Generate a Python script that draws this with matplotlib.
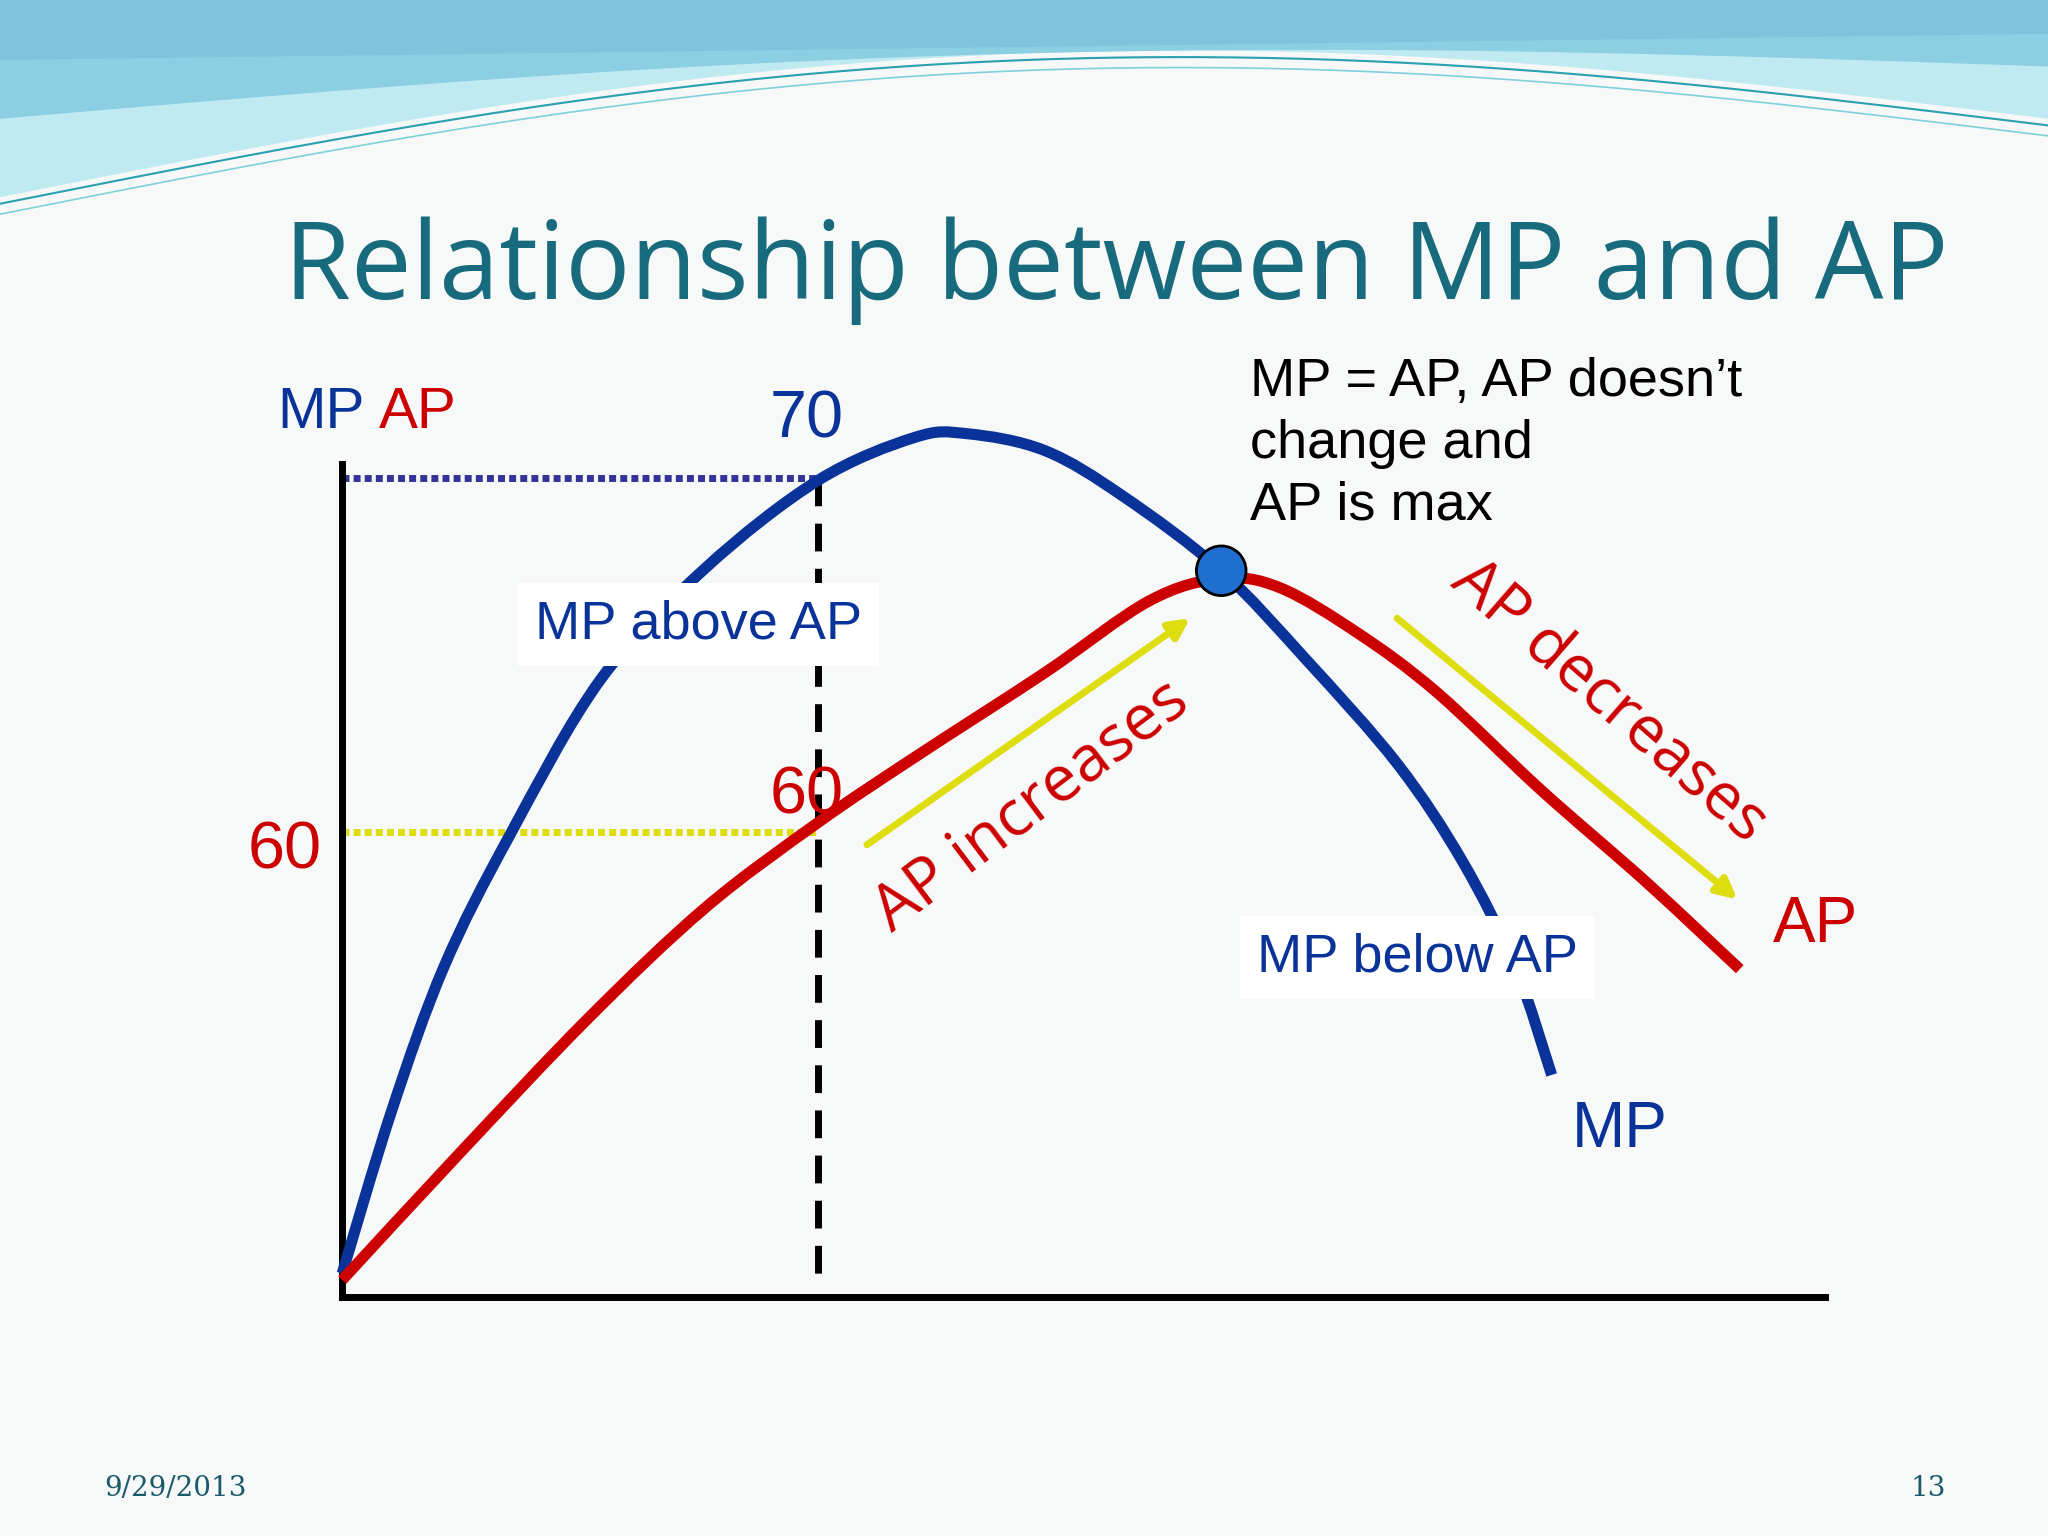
import numpy as np
import matplotlib.pyplot as plt
from matplotlib.patches import FancyArrowPatch, Circle, PathPatch
from matplotlib.path import Path

# curve points, in slide units (width 1568, height 1176, y downward)
mp_x = [262, 300, 340, 390, 460, 540, 626, 700, 740, 800, 860, 935, 1000, 1070, 1120, 1160, 1188]
mp_y = [975, 850, 740, 640, 520, 435, 368, 335, 332, 345, 380, 437, 505, 585, 660, 740, 823]
ap_x = [262, 350, 450, 540, 626, 700, 800, 880, 935, 980, 1040, 1100, 1180, 1260, 1332]
ap_y = [980, 885, 780, 695, 630, 580, 515, 460, 443, 450, 485, 530, 605, 675, 742]
peak = (935, 437)

narrow = ['Liberation Sans Narrow', 'Liberation Sans', 'DejaVu Sans']
blue = '#0a3399'
red = '#cc0000'
yellow = '#dddd10'


def smooth_path(xs, ys):
    # Catmull-Rom through the read points, drawn as cubic Bezier segments
    p = np.column_stack([xs, ys]).astype(float)
    verts = [p[0]]
    codes = [Path.MOVETO]
    for i in range(len(p) - 1):
        p0 = p[i - 1] if i > 0 else p[i]
        p3 = p[i + 2] if i + 2 < len(p) else p[i + 1]
        c1 = p[i] + (p[i + 1] - p0) / 6
        c2 = p[i + 1] - (p3 - p[i]) / 6
        verts += [c1, c2, p[i + 1]]
        codes += [Path.CURVE4] * 3
    return Path(verts, codes)


fig = plt.figure(figsize=(20.48, 15.36), dpi=100)
ax = fig.add_axes([0, 0, 1, 1])
ax.set_xlim(0, 1568)
ax.set_ylim(1176, 0)
ax.axis('off')
fig.patch.set_facecolor('#f7f8f8')

# top wave decoration
xs = np.linspace(0, 1568, 300)
t = xs / 1568
top1 = 150 - 80 * np.sin(np.pi * t) - 60 * t
ax.fill_between(xs, 0, top1, color='#bfeaf2', zorder=0)
top2 = 90 - 30 * np.sin(np.pi * t) - 40 * t
ax.fill_between(xs, 0, top2, color='#8ccfe3', zorder=0)
ax.fill_between(xs, 0, 45 - 20 * t, color='#7fc4dc', zorder=0)
ax.plot(xs, top1 + 6, color='#2aa0b0', lw=1.5, zorder=1)
ax.plot(xs, top1 + 14, color='#7fd0dc', lw=1.2, zorder=1)

ax.text(855, 207, 'Relationship between MP and AP', color='#176b7d',
        fontsize=78, ha='center', va='center', family=['Open Sans', 'DejaVu Sans'])

# axes
ax.plot([262, 262], [355, 993], color='black', lw=5, zorder=3)
ax.plot([262, 1397], [993, 993], color='black', lw=5, zorder=3)

# guides
ax.plot([262, 626], [366, 366], color='#333399', lw=5, ls=(0, (1, 0.6)), zorder=2)
ax.plot([262, 626], [637, 637], color=yellow, lw=5, ls=(0, (1, 0.6)), zorder=2)
ax.plot([626, 626], [366, 980], color='black', lw=5, ls=(0, (4, 2.5)), zorder=2)

ax.add_patch(PathPatch(smooth_path(mp_x, mp_y), facecolor='none', edgecolor=blue,
                       lw=8, zorder=4, capstyle='butt'))
ax.add_patch(PathPatch(smooth_path(ap_x, ap_y), facecolor='none', edgecolor=red,
                       lw=8, zorder=5, capstyle='butt'))
ax.add_patch(Circle(peak, 19, facecolor='#1f6fd0', edgecolor='black', lw=2, zorder=7))

for (x0, y0), (x1, y1) in [((662, 648), (913, 472)), ((1068, 472), (1332, 690))]:
    ax.add_patch(FancyArrowPatch((x0, y0), (x1, y1), arrowstyle='-|>', mutation_scale=30,
                                 color=yellow, lw=5, zorder=6))

box = dict(facecolor='white', edgecolor='none', pad=12)
ax.text(535, 478, 'MP above AP', color=blue, fontsize=39, ha='center', va='center',
        family=narrow, bbox=box, zorder=6)
ax.text(1085, 733, 'MP below AP', color=blue, fontsize=39, ha='center', va='center',
        family=narrow, bbox=box, zorder=6)

ax.text(212, 316, 'MP', color=blue, fontsize=42, ha='left', va='center', family=narrow)
ax.text(290, 316, 'AP', color=red, fontsize=42, ha='left', va='center', family=narrow)
ax.text(618, 322, '70', color=blue, fontsize=48, ha='center', va='center', family=narrow)
ax.text(618, 610, '60', color=red, fontsize=48, ha='center', va='center', family=narrow)
ax.text(218, 652, '60', color=red, fontsize=48, ha='center', va='center', family=narrow)
ax.text(1390, 708, 'AP', color=red, fontsize=46, ha='center', va='center', family=narrow)
ax.text(1240, 865, 'MP', color=blue, fontsize=46, ha='center', va='center', family=narrow)
ax.text(957, 340, 'MP = AP, AP doesn\u2019t\nchange and\nAP is max', color='black',
        fontsize=39, ha='left', va='center', family=narrow, linespacing=1.3)

ax.text(790, 617, 'AP increases', color=red, fontsize=46, rotation=37,
        ha='center', va='center', family=['Open Sans', 'DejaVu Sans'], zorder=6)
ax.text(1232, 537, 'AP decreases', color=red, fontsize=46, rotation=-41,
        ha='center', va='center', family=['Open Sans', 'DejaVu Sans'], zorder=6)

ax.text(80, 1140, '9/29/2013', color='#1a5a6a', fontsize=20, ha='left', va='center', family='serif')
ax.text(1490, 1140, '13', color='#1a5a6a', fontsize=20, ha='right', va='center', family='serif')

fig.savefig('out.png', dpi=100)
